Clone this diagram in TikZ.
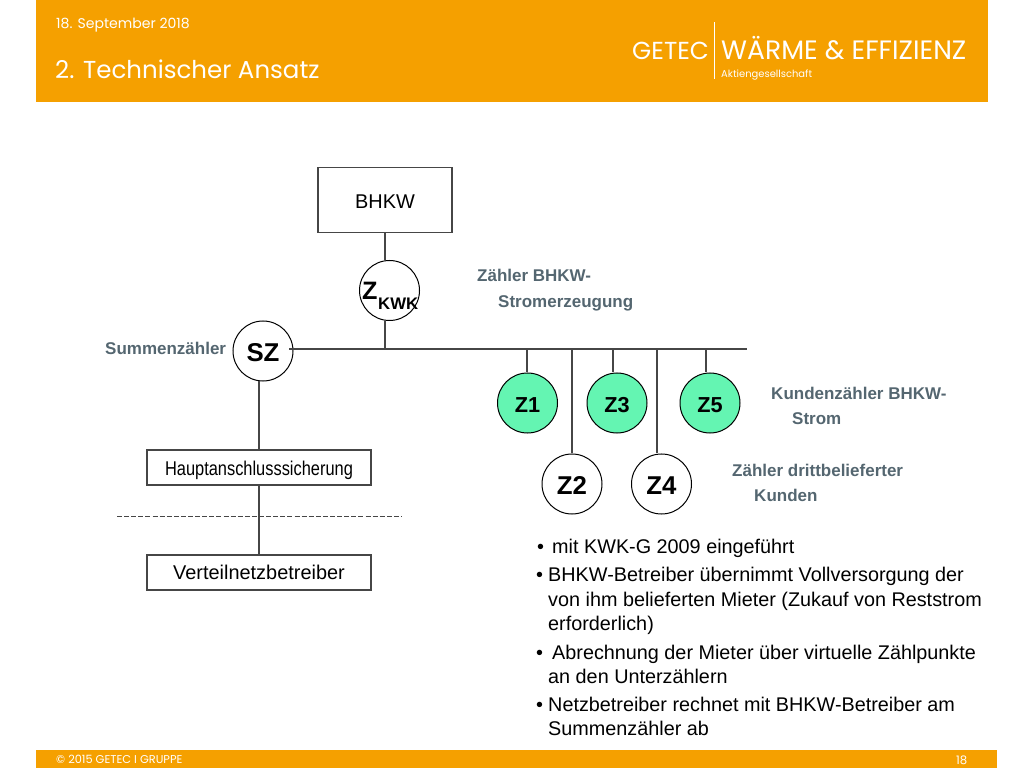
\documentclass[tikz,border=0pt]{standalone}
\usepackage{fontspec}
\setmainfont{Liberation Sans}
\newfontfamily\headfont{Poppins}
\definecolor{getecorange}{RGB}{245,160,0}
\definecolor{labelgrey}{RGB}{84,102,112}
\definecolor{linegrey}{RGB}{70,70,70}
\definecolor{metergreen}{RGB}{100,245,178}
\newcommand{\pxfont}[1]{\fontsize{#1}{#1}\selectfont}
\tikzset{
	wire/.style={draw=linegrey, line width=0.5mm},
	plainbox/.style={draw=linegrey, line width=0.4mm, fill=white, inner sep=0pt},
	meter/.style={circle, draw=black, line width=0.3mm, fill=white, minimum size=1.8cm, inner sep=0pt, text height=18.4pt, text depth=0pt, font=\pxfont{22}\bfseries},
	gmeter/.style={meter, fill=metergreen, text height=15.5pt, font=\pxfont{18.5}\bfseries},
	greylabel/.style={text=labelgrey, anchor=base west, inner sep=0pt, font=\pxfont{14.5}\bfseries},
	bullet/.style={anchor=base west, inner sep=0pt, font=\pxfont{16.9}},
	headtext/.style={text=white, anchor=base west, inner sep=0pt}
}
\begin{document}
\begin{tikzpicture}[x=0.03cm, y=-0.03cm]
	%%%%% HEADER %%%%%
	\useasboundingbox (0, 0) rectangle (1024, 768);
	\fill[getecorange] (36, 0) rectangle (988, 102);
	\fill[getecorange] (36, 750) rectangle (997, 768);
	\node[headtext, font=\headfont\pxfont{12}] (datum) at (56, 29) {18. September 2018};
	\node[headtext, font=\headfont\pxfont{20.9}] (titel) at (55, 79) {2. Technischer Ansatz};
	\node[headtext, font=\headfont\pxfont{21}] (getec) at (632, 60) {GETEC};
	\node[headtext, font=\headfont\pxfont{22.7}] (waerme) at (721, 60) {WÄRME \& EFFIZIENZ};
	\node[headtext, font=\headfont\pxfont{8.5}] (ag) at (721, 78) {Aktiengesellschaft};
	\draw[white, line width=0.2mm] (714, 22) -- (714, 79);
	\node[headtext, font=\headfont\pxfont{9.7}] (copy) at (56, 763) {© 2015 GETEC I GRUPPE};
	\node[headtext, font=\headfont\pxfont{10}] (seite) at (956, 764) {18};

	%%%%% PLAN %%%%%
	\coordinate (busstart) at (289, 349);
	\coordinate (busend) at (747, 349);
	\coordinate (busKWK) at (385, 349);
	\coordinate (busZ1) at (527, 349);
	\coordinate (busZ2) at (572, 349);
	\coordinate (busZ3) at (613, 349);
	\coordinate (busZ4) at (657, 349);
	\coordinate (busZ5) at (706, 349);
	\coordinate (dashleft) at (117, 517);
	\coordinate (dashright) at (402, 517);

	\node[plainbox, minimum width=4.02cm, minimum height=1.95cm, text height=14.2pt, text depth=0pt, font=\pxfont{17}] (bhkw) at (385, 200) {BHKW};
	\node[plainbox, minimum width=6.72cm, minimum height=1.05cm, text height=13.6pt, text depth=0pt, font=\pxfont{17}] (haupt) at (259, 467.5) {\scalebox{0.824}[1]{Hauptanschlusssicherung}};
	\node[plainbox, minimum width=6.72cm, minimum height=1.05cm, font=\pxfont{17}] (verteil) at (259, 572.5) {Verteilnetzbetreiber};
	\node[meter] (zkwk) at (389.5, 290.5) {};
	\node[meter] (sz) at (263, 351) {SZ};
	\node[gmeter] (z1) at (527.5, 403) {Z1};
	\node[gmeter] (z3) at (617, 403) {Z3};
	\node[gmeter] (z5) at (710, 403) {Z5};
	\node[meter] (z2) at (572, 484) {Z2};
	\node[meter] (z4) at (661.5, 484) {Z4};

	\draw[wire] (bhkw) -- (bhkw |- zkwk.north);
	\draw[wire] (bhkw |- zkwk.south) -- (busKWK);
	\draw[wire] (busZ1) -- (busZ1 |- z1.north);
	\draw[wire] (busZ2) -- (busZ2 |- z2.north);
	\draw[wire] (busZ3) -- (busZ3 |- z3.north);
	\draw[wire] (busZ4) -- (busZ4 |- z4.north);
	\draw[wire] (busZ5) -- (busZ5 |- z5.north);
	\draw[wire] (haupt |- sz.south) -- (haupt.north);
	\draw[wire] (haupt) -- (verteil);
	\draw[wire] (busstart) -- (busend);
	\draw[linegrey, line width=0.3mm, dash pattern=on 1.5mm off 0.63mm] (dashleft) -- (dashright);

	\node[anchor=base west, inner sep=0pt, font=\pxfont{21.5}\bfseries] (zkwktext) at (362, 300) {Z};
	\node[anchor=base west, inner sep=0pt, font=\pxfont{14.3}\bfseries] (kwktext) at (378, 310) {KWK};

	%%%%% TEXTS %%%%%
	\node[greylabel] (lbl1) at (477, 282) {Zähler BHKW-};
	\node[greylabel] (lbl2) at (498, 308) {Stromerzeugung};
	\node[greylabel] (lbl3) at (105, 355) {Summenzähler};
	\node[greylabel] (lbl4) at (771, 400) {Kundenzähler BHKW-};
	\node[greylabel] (lbl5) at (792, 425) {Strom};
	\node[greylabel] (lbl6) at (732, 477) {Zähler drittbelieferter};
	\node[greylabel] (lbl7) at (754, 502) {Kunden};

	\node[bullet] (b1) at (537, 553) {•};
	\node[bullet] (t1) at (552, 553) {mit KWK-G 2009 eingeführt};
	\node[bullet] (b2) at (536, 582) {•};
	\node[bullet] (t2) at (548, 582) {BHKW-Betreiber übernimmt Vollversorgung der};
	\node[bullet] (t2b) at (548, 606) {von ihm belieferten Mieter (Zukauf von Reststrom};
	\node[bullet] (t2c) at (548, 630) {erforderlich)};
	\node[bullet] (b3) at (536, 659) {•};
	\node[bullet] (t3) at (552, 659) {Abrechnung der Mieter über virtuelle Zählpunkte};
	\node[bullet] (t3b) at (548, 683) {an den Unterzählern};
	\node[bullet] (b4) at (536, 711) {•};
	\node[bullet] (t4) at (548, 711) {Netzbetreiber rechnet mit BHKW-Betreiber am};
	\node[bullet] (t4b) at (548, 735) {Summenzähler ab};
\end{tikzpicture}
\end{document}
